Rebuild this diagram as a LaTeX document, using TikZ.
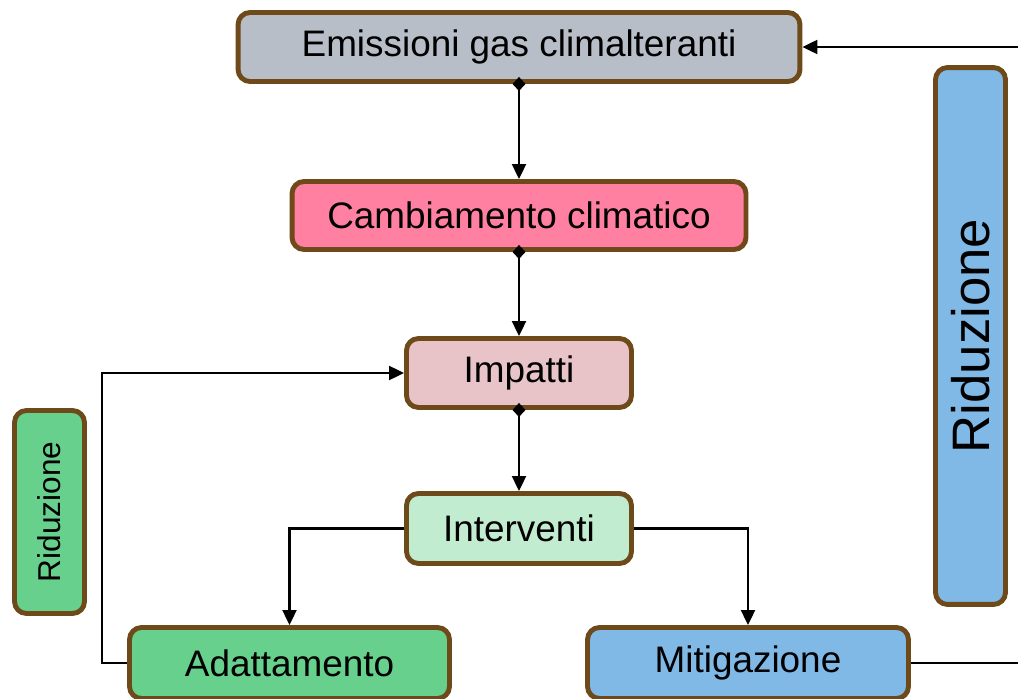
\documentclass[tikz,border=0pt]{standalone}
\usepackage{fontspec}
\setmainfont{Liberation Sans}
\usepackage{tikz}
\usetikzlibrary{arrows.meta}
\usetikzlibrary{positioning}
\definecolor{boxbrown}{RGB}{110,74,26}
\definecolor{boxgray}{RGB}{184,190,200}
\definecolor{boxpink}{RGB}{255,128,160}
\definecolor{boxrose}{RGB}{232,196,200}
\definecolor{boxmint}{RGB}{194,236,208}
\definecolor{boxgreen}{RGB}{102,208,140}
\definecolor{boxblue}{RGB}{128,184,230}
\tikzset{
    box/.style = {rectangle, rounded corners=0.24cm, draw=boxbrown, line width=2.8pt, align=center, inner sep=0pt, font=\fontsize{21}{25}\selectfont},
    boxv/.style = {box, rotate=90, minimum height=1.4cm},
}

\begin{document}
\begin{tikzpicture}[
	x=0.02cm,
	y=-0.02cm
]
\tikzset{
    edgen/.style = {-{Triangle[length=0.3cm,width=0.28cm]}, line width=1.2pt},
    edged/.style = {{Diamond[length=0.28cm,width=0.26cm]}-{Triangle[length=0.3cm,width=0.28cm]}, shorten <=-0.14cm, line width=1.2pt},
    edgel/.style = {-, line width=1.2pt},
}
\useasboundingbox (0,0) rectangle (1018,699);
\node[box,fill=boxgray,minimum width=11.24cm,minimum height=1.38cm] at (519,47) (emis) {Emissioni gas climalteranti};
\node[box,fill=boxpink,minimum width=9.08cm,minimum height=1.36cm] at (519,215.5) (camb) {Cambiamento climatico};
\node[box,fill=boxrose,minimum width=4.5cm,minimum height=1.38cm] at (519,373) (imp) {Impatti};
\node[box,fill=boxmint,minimum width=4.5cm,minimum height=1.4cm] at (519,528.5) (interv) {Interventi};
\node[box,fill=boxgreen,minimum width=6.4cm,minimum height=1.42cm] at (289.5,663) (adatt) {Adattamento};
\node[box,fill=boxblue,minimum width=6.42cm,minimum height=1.42cm] at (748,663) (mitig) {Mitigazione};
\node[boxv,fill=boxgreen,minimum width=4.06cm,font=\fontsize{18}{22}\selectfont] at (49.5,512) (ridl) {Riduzione};
\node[boxv,fill=boxblue,minimum width=10.74cm,font=\fontsize{30}{36}\selectfont] at (970.5,336) (ridr) {Riduzione};
\coordinate (loopl) at (102,663);
\coordinate (loopr) at (1040,663);
%
\draw[edged] (emis.south) -- (camb.north);
\draw[edged] (camb.south) -- (imp.north);
\draw[edged] (imp.south) -- (interv.north);
%
\draw[edgen] (interv.west) -| (adatt.north);
\draw[edgen] (interv.east) -| (mitig.north);
%
\draw[edgen] (adatt.west) -- (loopl) |- (imp.west);
\draw[edgen] (mitig.east) -- (loopr) |- (emis.east);
\end{tikzpicture}
\end{document}
